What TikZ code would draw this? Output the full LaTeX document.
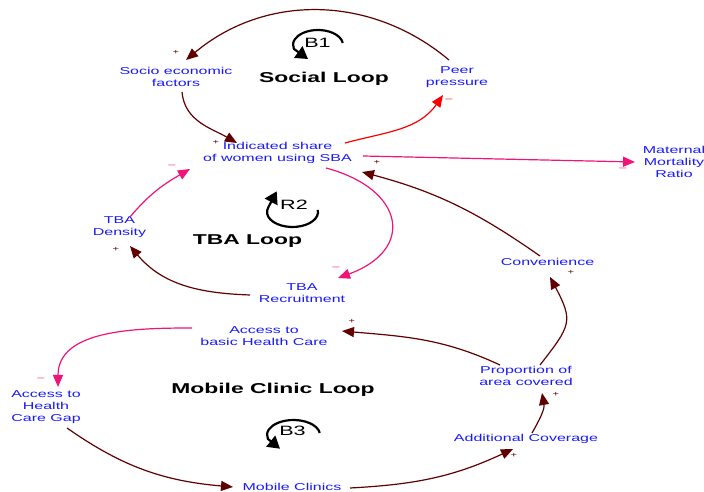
\documentclass[tikz,border=0pt]{standalone}
\usepackage{fontspec}
\setmainfont{Liberation Sans}[FakeStretch=1.6]
\usetikzlibrary{arrows.meta}

\definecolor{lblblue}{RGB}{25,25,255}
\definecolor{cldmaroon}{RGB}{96,0,0}
\definecolor{cldpink}{RGB}{240,20,120}
\definecolor{cldred}{RGB}{250,0,0}

\tikzset{
  var/.style={text=lblblue, align=center, inner sep=0pt,
    font=\fontsize{10}{12}\selectfont},
  looptitle/.style={anchor=base, inner sep=0pt,
    font=\fontsize{14.3}{16}\selectfont\bfseries},
  looplbl/.style={inner sep=0pt, font=\fontsize{13.5}{14}\selectfont},
  loopline/.style={line width=2.2pt, line join=round,
    -{Triangle[length=12pt,width=14pt]}},
  link/.style={line width=1.2pt, -{Triangle[length=12pt,width=10pt]}},
  plink/.style={link, draw=cldmaroon},
  nlink/.style={link, draw=cldpink},
  rlink/.style={link, draw=cldred},
  signp/.style={inner sep=0pt, text=cldmaroon, font=\fontsize{7}{7}\selectfont},
  signm/.style={inner sep=0pt, text=cldpink, font=\fontsize{8}{8}\selectfont},
  signr/.style={signm, text=cldred},
}

\begin{document}
\begin{tikzpicture}[x=1pt,y=1pt]
\useasboundingbox (0,0) rectangle (704,492);

% variables
\node[var] (socio) at (176,415)   {Socio economic\\factors};
\node[var] (peer)  at (457,415)   {Peer\\pressure};
\node[var] (ind)   at (277.5,339) {Indicated share\\of women using SBA};
\node[var] (mmr)   at (674,330)   {Maternal\\Mortality\\Ratio};
\node[var] (tbad)  at (119.5,265) {TBA\\Density};
\node[var] (tbar)  at (302,199)   {TBA\\Recruitment};
\node[var] (conv)  at (547.5,230) {Convenience};
\node[var] (abhc)  at (264,156)   {Access to\\basic Health Care};
\node[var] (gap)   at (46,85)     {Access to\\Health\\Care Gap};
\node[var] (prop)  at (526,116)   {Proportion of\\area covered};
\node[var] (addc)  at (526,53.5)  {Additional Coverage};
\node[var] (mc)    at (292,5)     {Mobile Clinics};

% loop titles
\node[looptitle] (tsoc) at (324,409)   {Social Loop};
\node[looptitle] (ttba) at (247.5,247) {TBA Loop};
\node[looptitle] (tmob) at (273,98)    {Mobile Clinic Loop};

% loop markers: label, centre of the circling arrow, arc and head
\node[looplbl] (b1) at (317.5,449) {B1};
\node[looplbl] (r2) at (294,287)   {R2};
\node[looplbl] (b3) at (292.5,61)  {B3};
\coordinate (b1c) at (318,447);
\coordinate (r2c) at (292.5,280);
\coordinate (b3c) at (293.5,57);
\draw[loopline] ([shift={(8:25 and 15)}]b1c)
  arc[start angle=8, end angle=195, x radius=25, y radius=15]
  -- ([shift={(-10,-14)}]b1c);
\draw[loopline] ([shift={(8:25.5 and 15)}]r2c)
  arc[start angle=8, end angle=-200, x radius=25.5, y radius=15]
  -- ([shift={(-15.8,20.7)}]r2c);
\draw[loopline] ([shift={(8:26.5 and 15)}]b3c)
  arc[start angle=8, end angle=195, x radius=26.5, y radius=15]
  -- ([shift={(-13.5,-13.7)}]b3c);

% social loop
\draw[plink] ([shift={(-8,17)}]peer.center) to[out=140, in=40]
  ([shift={(10,17)}]socio.center);
\draw[plink] ([shift={(6,-15)}]socio.center) to[out=-85, in=150]
  ([shift={(-40.5,10)}]ind.center);
\draw[rlink] ([shift={(67.5,10)}]ind.center) to[out=15, in=-125]
  ([shift={(-14,-18)}]peer.center);

% outcome
\draw[nlink] ([shift={(85.5,-3)}]ind.center) -- ([shift={(-39,0)}]mmr.center);

% TBA loop
\draw[nlink] ([shift={(48.5,-15)}]ind.center) to[out=-15, in=20, looseness=1.9]
  ([shift={(36,15)}]tbar.center);
\draw[plink] ([shift={(-52,-2)}]tbar.center) to[out=178, in=-50]
  ([shift={(10.5,-19)}]tbad.center);
\draw[nlink] ([shift={(10.5,10)}]tbad.center) to[out=50, in=-150]
  ([shift={(-87.5,-16)}]ind.center);

% convenience chain
\draw[plink] ([shift={(-7.5,6)}]conv.center) to[out=145, in=-15]
  ([shift={(84.5,-19)}]ind.center);
\draw[plink] ([shift={(14,11)}]prop.center) to[out=52, in=-62, looseness=1.45]
  ([shift={(2.5,-15)}]conv.center);

% mobile clinic loop
\draw[plink] ([shift={(-26,11)}]prop.center) to[out=155, in=-5]
  ([shift={(78,5)}]abhc.center);
\draw[nlink] ([shift={(-72,8)}]abhc.center) to[out=180, in=90]
  ([shift={(12,20)}]gap.center);
\draw[plink] ([shift={(21,-21)}]gap.center) to[out=-35, in=175]
  ([shift={(-59,0)}]mc.center);
\draw[plink] ([shift={(58,-1)}]mc.center) to[out=3, in=-155]
  ([shift={(-13,-10.5)}]addc.center);
\draw[plink] ([shift={(6,5.5)}]addc.center) to[out=60, in=-80]
  ([shift={(16,-17)}]prop.center);

% polarity signs
\node[signp] (s1)  at (176,440) {+};
\node[signp] (s2)  at (216,350) {+};
\node[signr] (s3)  at (449,392) {–};
\node[signm] (s4)  at (623,323) {–};
\node[signp] (s5)  at (377,330) {+};
\node[signm] (s6)  at (172,326) {–};
\node[signm] (s7)  at (336,224) {–};
\node[signp] (s8)  at (116,243) {+};
\node[signp] (s9)  at (571,220) {+};
\node[signp] (s10) at (352,171) {+};
\node[signm] (s11) at (41,113)  {–};
\node[signp] (s12) at (556,98)  {+};
\node[signp] (s13) at (514,37)  {+};
\end{tikzpicture}
\end{document}
